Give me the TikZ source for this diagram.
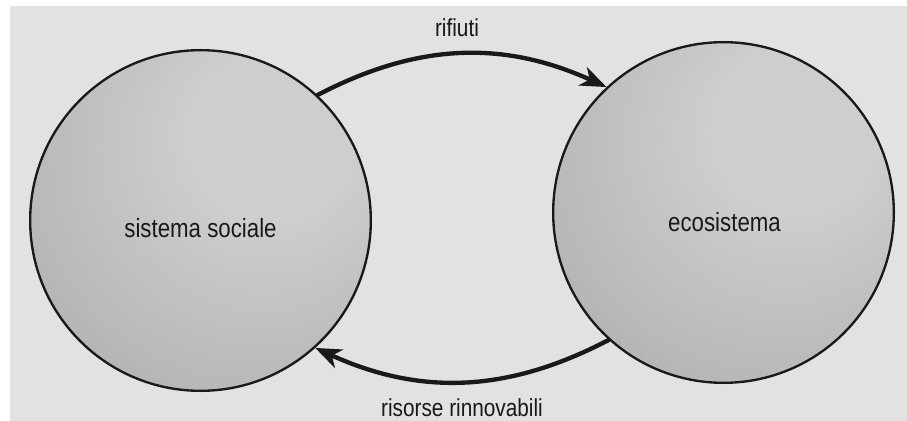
\documentclass[tikz,border=0pt]{standalone}
\usepackage{fontspec}
\setmainfont{Liberation Sans}[FakeStretch=0.845]
\usetikzlibrary{arrows.meta}

\definecolor{pagecolor}{RGB}{226,226,226}
\definecolor{disclight}{RGB}{206,206,206}
\definecolor{discmid}{RGB}{178,178,178}
\definecolor{discdark}{RGB}{145,145,145}
\pgfdeclareradialshading{discshade}{\pgfpoint{12bp}{14bp}}{color(0bp)=(disclight); color(12bp)=(disclight); color(40bp)=(discmid); color(62bp)=(discdark); color(100bp)=(discdark)}

\begin{document}
\begin{tikzpicture}
    [x=0.3mm,y=-0.3mm,line cap=round,
    % Styles
    system disc/.style={circle, draw=black!90, line width=0.7mm, shade, shading=discshade,
                        minimum size=102.2mm, inner sep=0pt},
    system text/.style={text=black!90, font=\fontsize{22.5}{26}\selectfont},
    flow text/.style={text=black!90, font=\fontsize{21}{24}\selectfont},
    flow line/.style={line width=1.3mm, draw=black!90,
                      -{Stealth[length=7.8mm, width=6mm, inset=2.3mm]}}]

    % Page
    \useasboundingbox (0,0) rectangle (907,421);
    \fill[white] (0,0) rectangle (907,421);
    \fill[pagecolor] (10,6) rectangle (907,421);

    % Systems
    \node[system disc] (social) at (200.5,220.5) {};
    \node[system disc] (eco) at (723.5,212.5) {};
    \node[system text] (social text) at (200.5,228.5) {sistema sociale};
    \node[system text] (eco text) at (724.5,222.5) {ecosistema};

    % Flows
    \draw[flow line] (social.47.8) to[bend left=26] (eco.133.6);
    \draw[flow line] (eco.228.5) to[bend left=26] (social.312.4);

    \node[flow text] (waste) at (457,28) {rifiuti};
    \node[flow text] (resources) at (462,408) {risorse rinnovabili};

\end{tikzpicture}
\end{document}
